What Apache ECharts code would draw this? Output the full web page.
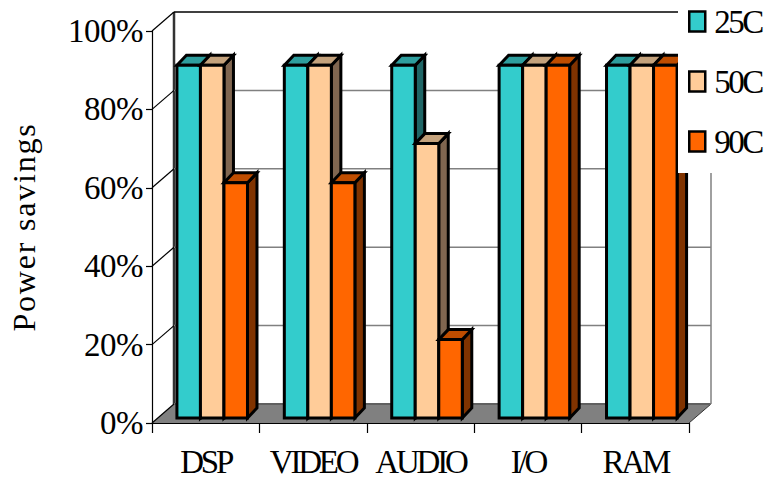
<!DOCTYPE html>
<html>
<head>
<meta charset="utf-8">
<style>html,body{margin:0;padding:0;background:#fff}#chart{width:767px;height:478px}</style>
<script src="https://cdn.jsdelivr.net/npm/echarts@6/dist/echarts.min.js"></script>
</head>
<body>
<div id="chart"></div>
<script>
const categories = ["DSP", "VIDEO", "AUDIO", "I/O", "RAM"];
const seriesNames = ["25C", "50C", "90C"];
const yTicks = [0, 20, 40, 60, 80, 100];
const temp25 = [90, 90, 90, 90, 90];
const temp50 = [90, 90, 70, 90, 90];
const temp90 = [60, 60, 20, 90, 90];

const serif = "Liberation Serif";
const chart = echarts.init(document.getElementById("chart"), null, { renderer: "svg" });

// depth of the fake 3d box, and of the bars inside it
const wallDx = 22, wallDy = -19;
const barDx = 6.5, barDy = -5, barDepthX = 9.5, barDepthY = -10;
const barRatio = 0.219;

function poly(points, fill, stroke, width) {
  return {
    type: "polygon",
    shape: { points: points },
    style: { fill: fill, stroke: stroke, lineWidth: width, lineJoin: "miter" },
  };
}

function line(x1, y1, x2, y2, color, width) {
  return {
    type: "line",
    shape: { x1: x1, y1: y1, x2: x2, y2: y2 },
    style: { stroke: color, lineWidth: width },
  };
}

// floor and the two upright edges of the back wall
function renderBox(params, api) {
  const c = params.coordSys;
  const left = c.x, right = c.x + c.width, top = c.y, bottom = c.y + c.height;
  return {
    type: "group",
    children: [
      poly([[left, bottom], [left + wallDx, bottom + wallDy], [right + wallDx, bottom + wallDy], [right, bottom]], "#808080", null, 0),
      line(left + wallDx, bottom + wallDy, right + wallDx, bottom + wallDy, "#000", 2),
      line(left + wallDx, top + wallDy, left + wallDx, bottom + wallDy, "#333", 2.5),
      line(right + wallDx, top + wallDy, right + wallDx, bottom + wallDy, "#808080", 1.5),
      line(right, bottom, right + wallDx, bottom + wallDy, "#333", 1),
    ],
  };
}

function renderGrid(params, api) {
  const c = params.coordSys;
  const v = api.value(0);
  const y = api.coord([0, v])[1];
  const top = v === 100;
  return {
    type: "group",
    children: [
      line(c.x, y, c.x + wallDx, y + wallDy, "#000", 1.2),
      line(c.x + wallDx, y + wallDy, c.x + c.width + wallDx, y + wallDy, top ? "#000" : "#808080", 1.5),
    ],
  };
}

function barRenderer(index, front, topFace, sideFace) {
  return function (params, api) {
    const p = api.coord([api.value(0), api.value(1)]);
    const base = api.coord([api.value(0), 0]);
    const band = api.size([1, 0])[0];
    const w = band * barRatio;
    const x0 = p[0] - 1.5 * w + index * w + barDx;
    const x1 = x0 + w;
    const y0 = p[1] + barDy;
    const y1 = base[1] + barDy;
    return {
      type: "group",
      children: [
        poly([[x1, y0], [x1 + barDepthX, y0 + barDepthY], [x1 + barDepthX, y1 + barDepthY], [x1, y1]], sideFace, "#000", 3),
        poly([[x0, y0], [x0 + barDepthX, y0 + barDepthY], [x1 + barDepthX, y0 + barDepthY], [x1, y0]], topFace, "#000", 3),
        poly([[x0, y0], [x1, y0], [x1, y1], [x0, y1]], front, "#000", 3),
      ],
    };
  };
}

function barSeries(name, values, index, front, topFace, sideFace) {
  return {
    name: name,
    type: "custom",
    z: 2,
    clip: false,
    itemStyle: { color: front },
    encode: { x: 0, y: 1 },
    renderItem: barRenderer(index, front, topFace, sideFace),
    data: values.map((v, i) => [i, v]),
  };
}

function legendItem(name, color) {
  return { name: name, icon: "rect", itemStyle: { color: color, borderColor: "#000", borderWidth: 2.5 } };
}

const option = {
  animation: false,
  backgroundColor: "#fff",
  textStyle: { fontFamily: serif },
  grid: { left: 152, right: 78, top: 31, bottom: 55, outerBoundsMode: "none" },
  legend: {
    orient: "vertical",
    left: 678,
    top: 0,
    padding: [5, 0, 15, 10],
    backgroundColor: "#fff",
    itemWidth: 16,
    itemHeight: 20,
    itemGap: 27,
    textStyle: { fontFamily: serif, fontSize: 33, color: "#000", padding: [0, 0, 0, 4] },
    data: [legendItem(seriesNames[0], "#33CCCC"), legendItem(seriesNames[1], "#FFCC99"), legendItem(seriesNames[2], "#FF6600")],
    selectedMode: false,
    z: 10,
  },
  xAxis: {
    type: "category",
    data: categories,
    z: 3,
    axisLine: { lineStyle: { color: "#000", width: 1.2 } },
    axisTick: { show: true, length: 10, lineStyle: { color: "#000", width: 1.2 } },
    axisLabel: { fontFamily: serif, fontSize: 33, color: "#000", margin: 22, interval: 0 },
    splitLine: { show: false },
  },
  yAxis: {
    type: "value",
    min: 0,
    max: 100,
    interval: 20,
    z: 3,
    name: "Power savings",
    nameLocation: "middle",
    nameRotate: 90,
    nameGap: 112,
    nameTextStyle: { fontFamily: serif, fontSize: 32, color: "#000" },
    axisLine: { show: true, lineStyle: { color: "#000", width: 1.2 } },
    axisTick: { show: true, length: 6, lineStyle: { color: "#000", width: 1.2 } },
    axisLabel: { fontFamily: serif, fontSize: 33, color: "#000", margin: 9, formatter: "{value}%" },
    splitLine: { show: false },
  },
  series: [
    { name: "box", type: "custom", z: 0, clip: false, renderItem: renderBox, data: [[0]], encode: { x: -1, y: -1 } },
    { name: "grid", type: "custom", z: 1, clip: false, renderItem: renderGrid, data: yTicks.map((v) => [v]), encode: { x: -1, y: -1 } },
    barSeries(seriesNames[0], temp25, 0, "#33CCCC", "#2E9E9E", "#1F6666"),
    barSeries(seriesNames[1], temp50, 1, "#FFCC99", "#C4A27C", "#806650"),
    barSeries(seriesNames[2], temp90, 2, "#FF6600", "#BF4D00", "#803300"),
  ],
};

// the original text has tighter / looser spacing than the font
chart.on("finished", () => {
  document.querySelectorAll("#chart text").forEach((t) => {
    const s = t.textContent;
    if (s === "Power savings") t.style.letterSpacing = "1.8px";
    else if (categories.includes(s)) t.style.letterSpacing = "-3.2px";
    else if (seriesNames.includes(s)) t.style.letterSpacing = "-2.5px";
    else if (s.endsWith("%")) t.style.letterSpacing = "-0.5px";
  });
});

chart.setOption(option);
</script>
</body>
</html>
